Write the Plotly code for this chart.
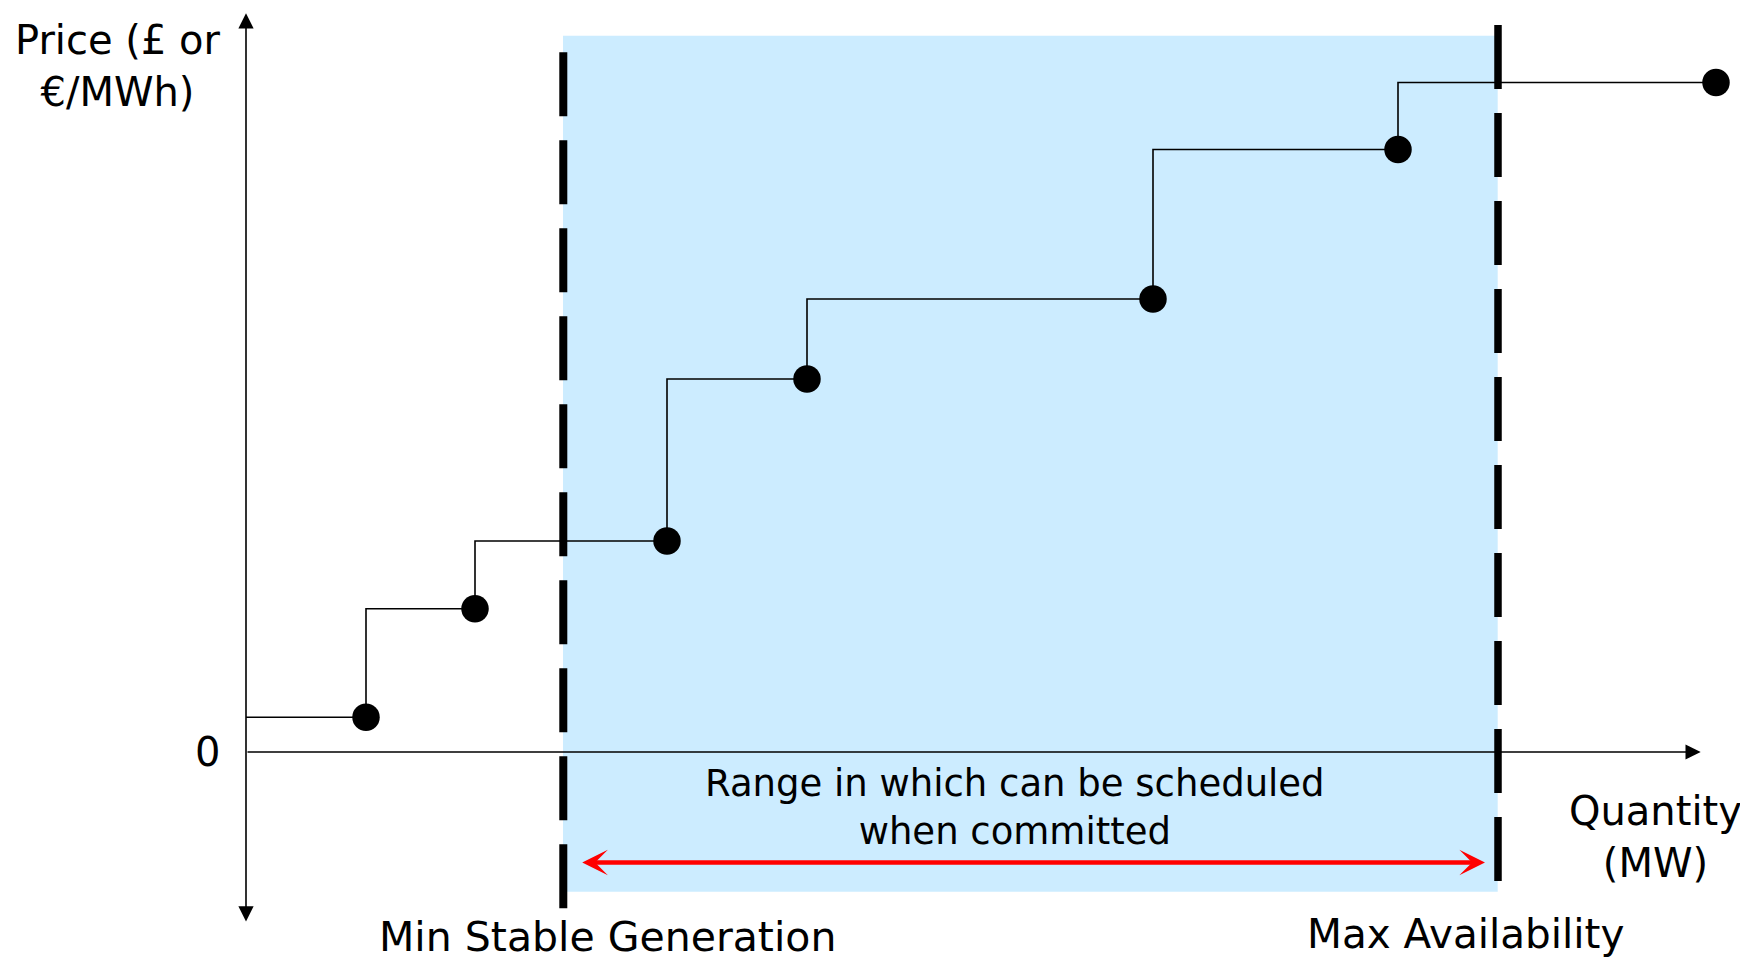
import plotly.graph_objects as go

# ---- data (arbitrary units: quantity in MW, price in £ or €/MWh) ----
offer_quantities = [12.0, 22.9, 42.1, 56.1, 90.7, 115.2, 147.0]   # end of each price band
offer_prices = [3.47, 14.33, 21.1, 37.3, 45.3, 60.25, 66.95]      # price of each band
min_stable_generation = 31.73
max_availability = 125.2
y_axis_label = "Price (£ or<br>€/MWh)"
x_axis_label = "Quantity<br>(MW)"
range_label = "Range in which can be scheduled<br>when committed"
msg_label = "Min Stable Generation"
maxav_label = "Max Availability"

FONT = "DejaVu Sans"

fig = go.Figure()

# step line of the offer curve
line_x = [0] + offer_quantities
line_y = [offer_prices[0]] + offer_prices
fig.add_trace(go.Scatter(
    x=line_x, y=line_y, mode="lines", line_shape="vh",
    line=dict(color="black", width=1.6), hoverinfo="skip", showlegend=False))

# offer points
fig.add_trace(go.Scatter(
    x=offer_quantities, y=offer_prices, mode="markers",
    marker=dict(color="black", size=27.5), showlegend=False))

shapes = []
# scheduling range background
shapes.append(dict(type="rect", xref="x", yref="y",
                   x0=min_stable_generation - 0.03, x1=max_availability - 0.03,
                   y0=-13.97, y1=71.63, fillcolor="rgb(204,236,255)",
                   line=dict(width=0), layer="below"))
# dashed limits
shapes.append(dict(type="line", xref="x", yref="y",
                   x0=min_stable_generation, x1=min_stable_generation,
                   y0=69.97, y1=-15.63,
                   line=dict(color="black", width=8, dash="64px,24px")))
shapes.append(dict(type="line", xref="x", yref="y",
                   x0=max_availability, x1=max_availability,
                   y0=72.7, y1=-12.9,
                   line=dict(color="black", width=7.5, dash="64px,24px")))

annotations = []
# y axis (double arrow)
annotations.append(dict(x=0, y=73.87, ax=0, ay=-17.1, xref="x", yref="y",
                        axref="x", ayref="y", text="", showarrow=True,
                        arrowhead=2, startarrowhead=2, arrowside="end+start",
                        arrowwidth=1.6, arrowsize=1.9, startarrowsize=1.9,
                        arrowcolor="black"))
# x axis
annotations.append(dict(x=145.47, y=0, ax=0, ay=0, xref="x", yref="y",
                        axref="x", ayref="y", text="", showarrow=True,
                        arrowhead=2, arrowwidth=1.6, arrowsize=1.9,
                        arrowcolor="black"))
# red range arrow
annotations.append(dict(x=123.9, y=-11.05, ax=33.47, ay=-11.05, xref="x", yref="y",
                        axref="x", ayref="y", text="", showarrow=True,
                        arrowhead=3, startarrowhead=3, arrowside="end+start",
                        arrowwidth=4.5, arrowsize=0.95, startarrowsize=0.95,
                        arrowcolor="red"))

def label(text, x, y, size):
    return dict(x=x, y=y, xref="x", yref="y", text=text, showarrow=False,
                font=dict(family=FONT, size=size, color="black"),
                xanchor="center", yanchor="middle", align="center")

annotations.append(label(y_axis_label, -12.8, 68.6, 40))
annotations.append(label("0", -3.9, 0, 40))
annotations.append(label(range_label, 76.85, -5.5, 37))
annotations.append(label(x_axis_label, 140.9, -8.48, 40))
annotations.append(label(msg_label, 36.1, -18.5, 41))
annotations.append(label(maxav_label, 121.9, -18.15, 40.5))

# page body has an 8px margin: the figure sits at (8, 8) in the window
fig.update_layout(
    width=1740, height=952,
    margin=dict(l=0, r=0, t=0, b=0),
    paper_bgcolor="white", plot_bgcolor="white",
    shapes=shapes, annotations=annotations,
    xaxis=dict(range=[-23.8, 150.2], visible=False, fixedrange=True),
    yaxis=dict(range=[-20.8, 74.4], visible=False, fixedrange=True),
    showlegend=False,
)

fig.write_html("out.html")
